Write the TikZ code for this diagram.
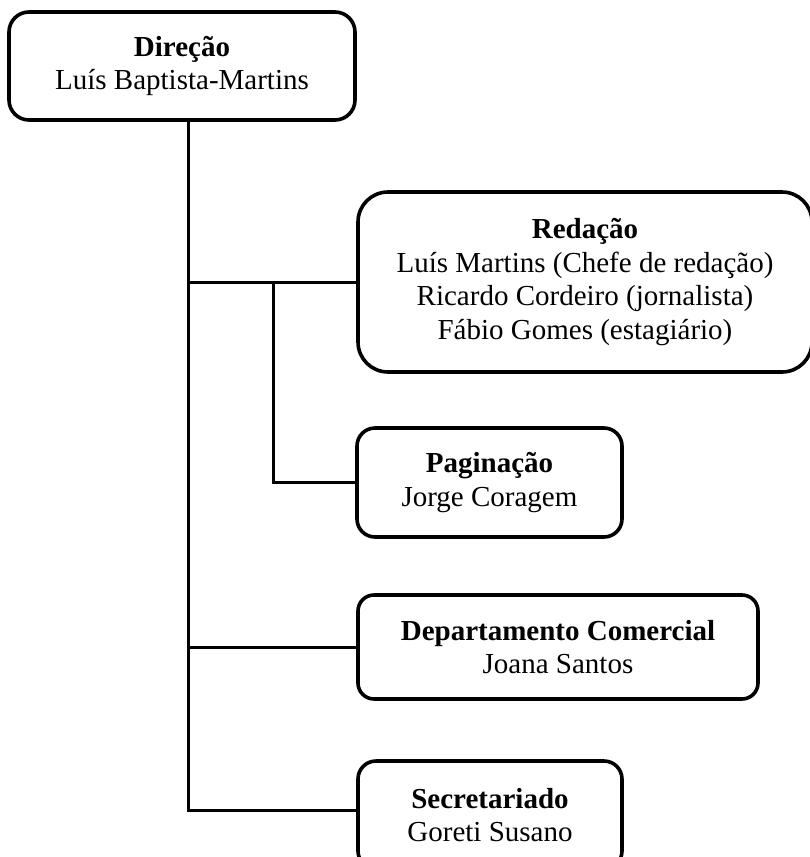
\documentclass[tikz,border=0pt]{standalone}
\usepackage{fontspec}
\setmainfont{Liberation Serif}
\usetikzlibrary{calc}
\tikzset{
  unitbox/.style={draw=black, line width=3.6pt, align=center, inner sep=0pt,
    font={\fontsize{29}{33.5}\selectfont}},
  link/.style={draw=black, line width=3pt}
}
\begin{document}
\begin{tikzpicture}[x=1pt,y=-1pt]
\useasboundingbox (0,0) rectangle (809,857);
\node[unitbox, rounded corners=20pt, minimum width=346pt, minimum height=108pt] (dir) at (182,66)
  {\textbf{Direção}\\Luís Baptista-Martins};
\node[unitbox, rounded corners=30pt, minimum width=454pt, minimum height=180pt] (red) at (585,282)
  {\textbf{Redação}\\Luís Martins (Chefe de redação)\\Ricardo Cordeiro (jornalista)\\Fábio Gomes (estagiário)};
\node[unitbox, rounded corners=18pt, minimum width=265pt, minimum height=109pt] (pag) at (489.5,482.5)
  {\textbf{Paginação}\\Jorge Coragem};
\node[unitbox, rounded corners=16pt, minimum width=400pt, minimum height=104pt] (com) at (558,647)
  {\textbf{Departamento Comercial}\\Joana Santos};
\node[unitbox, rounded corners=18pt, minimum width=264pt, minimum height=108pt] (sec) at (490,815)
  {\textbf{Secretariado}\\Goreti Susano};
\coordinate (trunk) at ([xshift=6pt]dir.south);
\coordinate (br) at ($(red.west)+(-83,0)$);
\draw[link] (trunk) |- ([yshift=5pt]sec.west);
\draw[link] (trunk |- red.west) -- (red.west);
\draw[link] (br) |- (pag.west);
\draw[link] (trunk |- com.west) -- (com.west);
\end{tikzpicture}
\end{document}
